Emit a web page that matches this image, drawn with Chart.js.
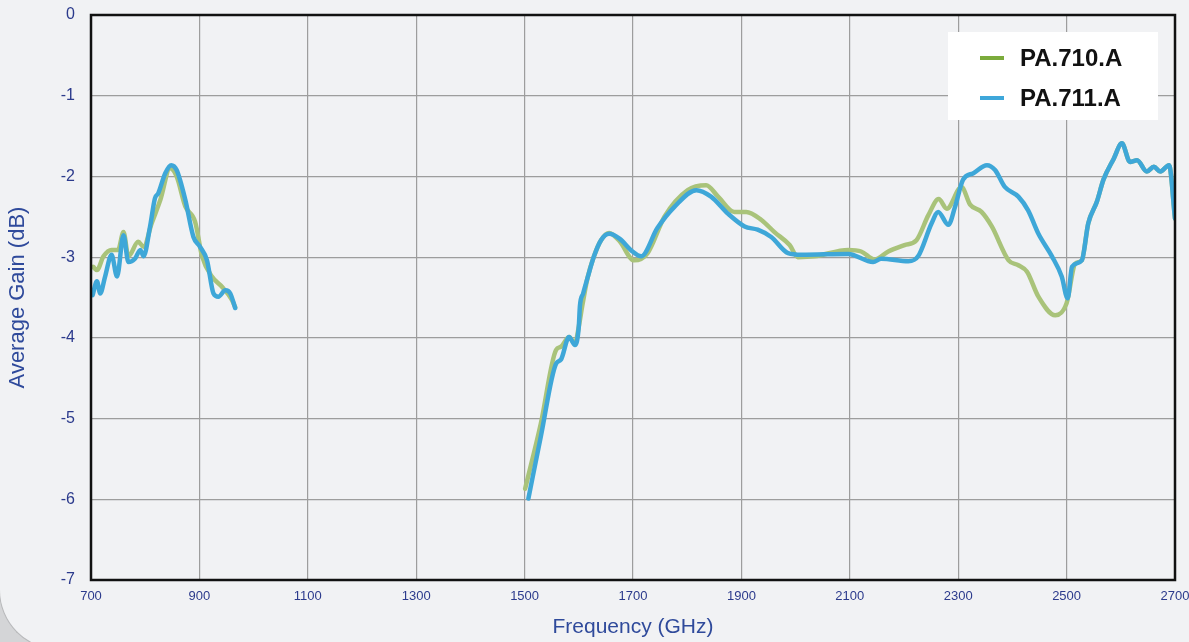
<!DOCTYPE html>
<html>
<head>
<meta charset="utf-8">
<script src="https://cdn.jsdelivr.net/npm/chart.js@4.4.1/dist/chart.umd.min.js"></script>
<style>
  html, body { margin: 0; padding: 0; background: #d4d5d7; }
  #wrap { position: relative; width: 1189px; height: 642px; overflow: hidden; }
  #card { position: absolute; left: -1px; top: -20px; width: 1220px; height: 670px; background: #f1f2f4;
          border-left: 1px solid #b8b9bb; border-bottom: 1px solid #b8b9bb;
          border-bottom-left-radius: 60px; box-sizing: border-box; }
  canvas { position: absolute; left: 0; top: 0; }
</style>
</head>
<body>
<div id="wrap">
  <div id="card"></div>
  <canvas id="myChart" width="1189" height="642"></canvas>
</div>
<script>
'use strict';

// data (MHz, dB); null breaks the curve between the two bands
const freq710 = [704, 711, 723, 738, 750, 760, 769, 787, 797, 812,
    828, 846, 858, 874, 892, 905, 923, 942, 960, 966, 1200,
    1501, 1530, 1558, 1567, 1582, 1593, 1600, 1607, 1616, 1628, 1641,
    1656, 1675, 1702, 1727, 1758, 1801, 1835, 1857, 1887, 1909,
    1937, 1961, 1989, 2004, 2035, 2097, 2121, 2146, 2171, 2201,
    2223, 2245, 2264, 2279, 2306, 2322, 2343, 2362, 2393, 2411,
    2427, 2448, 2479, 2500, 2516, 2528, 2540, 2556, 2568, 2587,
    2602, 2617, 2630, 2648, 2661, 2673, 2689, 2700];
const gain710 = [-3.12, -3.16, -2.99, -2.91, -2.91, -2.69, -2.99, -2.81, -2.87, -2.58,
    -2.29, -1.90, -2.00, -2.37, -2.56, -2.99, -3.24, -3.37, -3.53, -3.62, null,
    -5.87, -5.06, -4.15, -4.11, -3.99, -4.07, -3.86, -3.58, -3.26, -2.99, -2.79,
    -2.70, -2.80, -3.04, -2.95, -2.50, -2.17, -2.11, -2.25, -2.44, -2.44,
    -2.54, -2.69, -2.85, -3.00, -2.99, -2.91, -2.93, -3.03, -2.93, -2.85,
    -2.79, -2.48, -2.28, -2.40, -2.13, -2.35, -2.44, -2.62, -3.04, -3.10,
    -3.18, -3.49, -3.72, -3.57, -3.08, -3.04, -2.58, -2.31, -2.04, -1.78,
    -1.59, -1.82, -1.80, -1.94, -1.88, -1.94, -1.86, -2.52];

const freq711 = [703, 711, 717, 726, 738, 748, 760, 769, 781, 791,
    797, 809, 818, 824, 837, 848, 858, 874, 889, 901,
    914, 926, 935, 948, 957, 966, 1200,
    1507, 1530, 1558, 1567, 1582, 1593, 1600, 1602, 1608, 1616, 1628,
    1641, 1656, 1675, 1699, 1715, 1745, 1776, 1817, 1844, 1875,
    1906, 1930, 1955, 1986, 2011, 2097, 2143, 2158, 2208, 2226,
    2251, 2263, 2282, 2294, 2309, 2328, 2353, 2368, 2386, 2411,
    2429, 2448, 2473, 2491, 2502, 2510, 2528, 2540, 2556, 2568,
    2587, 2602, 2617, 2630, 2648, 2661, 2673, 2689, 2700];
const gain711 = [-3.47, -3.30, -3.45, -3.24, -2.97, -3.24, -2.73, -3.06, -3.02, -2.91,
    -2.99, -2.62, -2.27, -2.21, -1.96, -1.86, -1.92, -2.29, -2.75, -2.87,
    -3.04, -3.45, -3.49, -3.41, -3.45, -3.63, null,
    -5.99, -5.22, -4.32, -4.27, -3.99, -4.09, -3.86, -3.61, -3.45, -3.26, -2.99,
    -2.79, -2.71, -2.77, -2.93, -2.99, -2.64, -2.38, -2.17, -2.25, -2.46,
    -2.62, -2.66, -2.75, -2.95, -2.97, -2.96, -3.06, -3.02, -3.05, -2.99,
    -2.58, -2.44, -2.60, -2.38, -2.04, -1.96, -1.86, -1.92, -2.13, -2.25,
    -2.42, -2.71, -2.99, -3.24, -3.51, -3.12, -3.04, -2.58, -2.31, -2.04,
    -1.78, -1.59, -1.82, -1.80, -1.94, -1.88, -1.94, -1.86, -2.52];

const xTicks = [700, 900, 1100, 1300, 1500, 1700, 1900, 2100, 2300, 2500, 2700];
const yTicks = [0, -1, -2, -3, -4, -5, -6, -7];

const seriesNames = ['PA.710.A', 'PA.711.A'];
const legendColors = ['#7bab3c', '#3ea7da'];

function toPoints(xs, ys) {
    return xs.map((x, i) => ({x: x, y: ys[i]}));
}

// plot frame + boxed legend inside the plot
const framePlugin = {
    id: 'frame',
    afterDatasetsDraw(chart) {
        const {ctx, chartArea: a} = chart;
        ctx.save();
        ctx.strokeStyle = '#111';
        ctx.lineWidth = 2.5;
        ctx.strokeRect(a.left, a.top, a.right - a.left, a.bottom - a.top);

        const bx = a.right - 227, by = a.top + 17;
        ctx.fillStyle = '#ffffff';
        ctx.fillRect(bx, by, 210, 88);
        ctx.font = 'bold 24px "Liberation Sans", Arial, sans-serif';
        ctx.textBaseline = 'middle';
        seriesNames.forEach((name, i) => {
            const ly = by + 26 + i * 40;
            ctx.strokeStyle = legendColors[i];
            ctx.lineWidth = 4;
            ctx.beginPath();
            ctx.moveTo(bx + 32, ly);
            ctx.lineTo(bx + 56, ly);
            ctx.stroke();
            ctx.fillStyle = '#111';
            ctx.fillText(name, bx + 72, ly + 1);
        });
        ctx.restore();
    }
};

const ctx = document.getElementById('myChart').getContext('2d');
const myChart = new Chart(ctx, {
    type: 'line',
    data: {
        datasets: [{
            label: seriesNames[0],
            data: toPoints(freq710, gain710),
            borderColor: '#a9c37a',
            borderWidth: 4.5,
            order: 1
        }, {
            label: seriesNames[1],
            data: toPoints(freq711, gain711),
            borderColor: '#3ea7d8',
            borderWidth: 4.5,
            order: 0
        }]
    },
    options: {
        responsive: false,
        animation: false,
        spanGaps: false,
        layout: {padding: {top: 15, right: 14, bottom: 0, left: 0}},
        elements: {
            point: {radius: 0},
            line: {cubicInterpolationMode: 'monotone', borderCapStyle: 'round', borderJoinStyle: 'round'}
        },
        plugins: {
            legend: {display: false},
            tooltip: {enabled: false}
        },
        scales: {
            x: {
                type: 'linear',
                min: 700,
                max: 2700,
                afterBuildTicks: s => { s.ticks = xTicks.map(v => ({value: v})); },
                afterFit: s => { s.height = 62; s.paddingLeft = 0; s.paddingRight = 0; },
                border: {display: false},
                grid: {color: '#9d9d9d', lineWidth: 1.2, drawTicks: false},
                ticks: {
                    color: '#2b3a8c',
                    padding: 9,
                    maxRotation: 0,
                    callback: v => String(v),
                    font: {family: '"Liberation Sans Narrow", "Liberation Sans", Arial', size: 13}
                },
                title: {
                    display: true,
                    text: 'Frequency (GHz)',
                    color: '#2f4a9b',
                    padding: {top: 0, bottom: 2},
                    font: {family: '"Liberation Sans", Arial', size: 21}
                }
            },
            y: {
                min: -7,
                max: 0,
                afterBuildTicks: s => { s.ticks = yTicks.map(v => ({value: v})); },
                afterFit: s => { s.width = 91; s.paddingTop = 0; s.paddingBottom = 0; },
                border: {display: false},
                grid: {color: '#9d9d9d', lineWidth: 1.2, drawTicks: false},
                ticks: {
                    color: '#2b3a8c',
                    padding: 16,
                    callback: v => String(v),
                    font: {family: '"Liberation Sans", Arial', size: 16}
                },
                title: {
                    display: true,
                    text: 'Average Gain (dB)',
                    color: '#2f4a9b',
                    padding: {top: 5, bottom: 0},
                    font: {family: '"Liberation Sans", Arial', size: 22}
                }
            }
        }
    },
    plugins: [framePlugin]
});
</script>
</body>
</html>
